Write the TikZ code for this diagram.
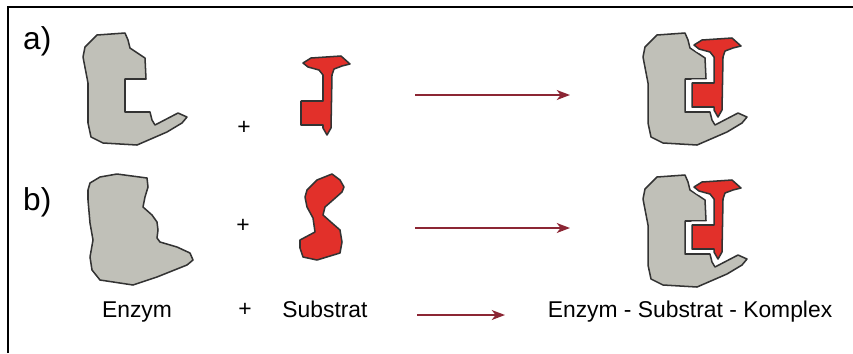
\documentclass[tikz,border=0pt]{standalone}
\usepackage{fontspec}
\setmainfont{Liberation Sans}
\usetikzlibrary{arrows.meta}
\usepackage{xcolor}

\definecolor{enzymgray}{RGB}{192,192,184}
\definecolor{substratred}{RGB}{226,48,42}
\definecolor{arrowred}{RGB}{140,38,52}

% outlines, in pixel units (y grows downwards)
\newcommand{\enzymA}{(97,35) -- (125,33) -- (128,40) -- (130,48) -- (145,58) --
  (146,79) -- (125,79) -- (125,112) -- (150,112) -- (152,120) -- (155,125) --
  (178,113) -- (187,117) -- (182,123) -- (167,132) -- (137,145) -- (103,143) --
  (91,137) -- (88,123) -- (88,83) -- (83,57) -- (85,47) -- cycle}
\newcommand{\substrA}{(303,63) -- (311,58) -- (341,56) -- (350,64) -- (342,66) --
  (334,69) -- (332,75) -- (331,128) -- (327,135) -- (323,128) -- (323,125) --
  (301,125) -- (301,101) -- (323,101) -- (323,75) -- (319,70) -- (308,67) -- cycle}
\newcommand{\enzymB}{(90,183) -- (100,177) -- (117,174) -- (147,178) -- (148,187) --
  (145,197) -- (143,207) -- (152,215) -- (157,222) -- (158,230) -- (157,238) --
  (160,242) -- (177,247) -- (190,253) -- (193,260) -- (187,265) -- (157,277) --
  (133,285) -- (100,280) -- (92,270) -- (90,257) -- (93,240) -- (90,223) --
  (88,200) -- (88,190) -- cycle}
\newcommand{\substrB}{(307,190) -- (317,180) -- (332,174) -- (340,180) -- (344,187) --
  (342,192) -- (333,200) -- (325,207) -- (323,215) -- (332,223) -- (340,230) --
  (342,242) -- (340,253) -- (317,260) -- (303,257) -- (300,248) -- (300,240) --
  (315,232) -- (313,218) -- (307,207) -- (305,197) -- cycle}

\begin{document}
\begin{tikzpicture}[x=0.03cm,y=-0.03cm,
    enzym/.style={draw=black!80, line width=1.3pt, line join=round, fill=enzymgray},
    substrat/.style={draw=black!80, line width=1.3pt, line join=round, fill=substratred},
    halo/.style={draw=white, line width=6pt, line join=round},
    reaction/.style={-{Stealth[length=4mm,width=3mm,inset=1.2mm]}, line width=1.5pt, draw=arrowred},
    term/.style={font=\fontsize{19.5}{22}\selectfont, inner sep=0pt, anchor=base},
    part/.style={font=\fontsize{27}{30}\selectfont, inner sep=0pt, anchor=base west}]
  \useasboundingbox (0,0) rectangle (853,353);
  %\draw[help lines,step=50] (0,0) grid (853,353); % Only for Development

  % frame (only top and left edges)
  \draw[line width=1.4pt] (8,353) -- (8,7) -- (853,7);

  \node[part] (partA) at (23,49) {a)};
  \node[part] (partB) at (23,210) {b)};

  % row a: lock and key
  \draw[enzym] \enzymA;
  \node[term, anchor=center] (plusA) at (244,128) {+};
  \draw[substrat] \substrA;
  \coordinate (arrA-s) at (415,95);
  \coordinate (arrA-e) at (570,95);
  \draw[reaction] (arrA-s) -- (arrA-e);
  \begin{scope}[shift={(560,0)}]
    \draw[enzym] \enzymA;
  \end{scope}
  \begin{scope}[shift={(391,-18)}]
    \draw[halo] \substrA;
    \draw[substrat] \substrA;
  \end{scope}

  % row b: induced fit
  \draw[enzym] \enzymB;
  \node[term, anchor=center] (plusB) at (243,226) {+};
  \draw[substrat] \substrB;
  \coordinate (arrB-s) at (415,228);
  \coordinate (arrB-e) at (570,228);
  \draw[reaction] (arrB-s) -- (arrB-e);
  \begin{scope}[shift={(560,142)}]
    \draw[enzym] \enzymA;
  \end{scope}
  \begin{scope}[shift={(391,124)}]
    \draw[halo] \substrA;
    \draw[substrat] \substrA;
  \end{scope}

  % word equation
  \node[term] (enzym) at (137,317) {Enzym};
  \node[term, anchor=center] (plusC) at (245,310) {+};
  \node[term] (substrat) at (325,317) {Substrat};
  \node[term] (komplex) at (690,317) {Enzym - Substrat - Komplex};
  \coordinate (arrC-s) at (417,315);
  \coordinate (arrC-e) at (505,315);
  \draw[reaction] (arrC-s) -- (arrC-e);
\end{tikzpicture}
\end{document}
